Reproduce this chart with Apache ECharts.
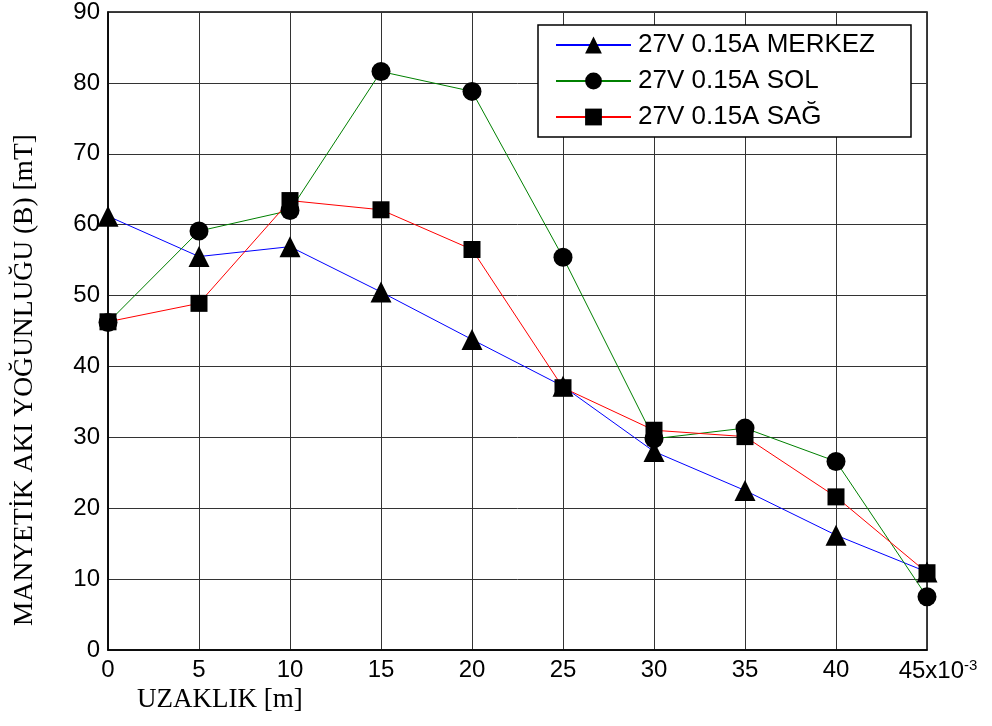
<!DOCTYPE html>
<html><head><meta charset="utf-8">
<script src="https://cdn.jsdelivr.net/npm/echarts@6/dist/echarts.min.js"></script>
<style>html,body{margin:0;padding:0;background:#fff}#c{width:992px;height:726px}</style>
</head><body><div id="c"></div>
<script>
const xValues = [0, 5, 10, 15, 20, 25, 30, 35, 40, 45];
const merkez = [61.2, 55.5, 56.9, 50.5, 43.8, 37.2, 28.0, 22.5, 16.2, 11.0];
const sol = [46.2, 59.1, 62.0, 81.6, 78.8, 55.4, 29.8, 31.3, 26.6, 7.5];
const sag = [46.3, 48.9, 63.4, 62.1, 56.5, 37.0, 31.0, 30.1, 21.6, 10.9];
const seriesNames = ['27V 0.15A MERKEZ', '27V 0.15A SOL', '27V 0.15A SAĞ'];
const xTitle = 'UZAKLIK [m]';
const yTitle = 'MANYETİK AKI YOĞUNLUĞU (B) [mT]';

const pair = arr => xValues.map((x, i) => [x, arr[i]]);
const chart = echarts.init(document.getElementById('c'));
const sans = 'Liberation Sans, Arial, Helvetica, sans-serif';
const serif = 'Liberation Serif, Times New Roman, serif';
chart.setOption({
  animation: false,
  backgroundColor: '#fff',
  grid: { left: 108, top: 12, width: 819, height: 638, show: true, borderColor: '#000', borderWidth: 1.5, containLabel: false, outerBoundsMode: 'none' },
  legend: {
    left: 538, top: 25, orient: 'vertical',
    backgroundColor: '#fff', borderColor: '#000', borderWidth: 1.5, borderRadius: 0,
    padding: [7, 36, 7, 17], itemGap: 10, itemWidth: 75, itemHeight: 21,
    textStyle: { fontFamily: sans, fontSize: 26, lineHeight: 26, color: '#000', padding: [0, 0, 0, 2] },
    data: seriesNames
  },
  xAxis: {
    type: 'value', min: 0, max: 45, interval: 5,
    axisLine: { show: true, lineStyle: { color: '#000', width: 1.5 } },
    axisTick: { show: false },
    splitLine: { show: true, lineStyle: { color: '#333', width: 1 } },
    axisLabel: {
      color: '#000', fontFamily: sans, fontSize: 24, margin: 8,
      formatter: v => v === 45 ? '{a|45x10}{s|-3}' : String(v),
      rich: { a: { fontFamily: sans, fontSize: 24, color: '#000', padding: [0, 0, 0, 22] }, s: { fontFamily: sans, fontSize: 15, color: '#000', verticalAlign: 'top', padding: [0, 0, 12, 0] } }
    }
  },
  yAxis: {
    type: 'value', min: 0, max: 90, interval: 10,
    axisLine: { show: true, lineStyle: { color: '#000', width: 1.5 } },
    axisTick: { show: false },
    splitLine: { show: true, lineStyle: { color: '#333', width: 1 } },
    axisLabel: { color: '#000', fontFamily: sans, fontSize: 24, margin: 8 }
  },
  graphic: [{
    type: 'text', left: 137, top: 686,
    style: { text: xTitle, font: '27px ' + serif, fill: '#000' }
  }, {
    type: 'text', x: 25, y: 380, rotation: Math.PI / 2,
    style: { text: yTitle, font: '27.5px ' + serif, fill: '#000', align: 'center', verticalAlign: 'middle' }
  }],
  series: [
    { name: seriesNames[0], type: 'line', data: pair(merkez), symbol: 'triangle', symbolSize: 21,
      itemStyle: { color: '#000' }, lineStyle: { color: '#0000ff', width: 1 } },
    { name: seriesNames[1], type: 'line', data: pair(sol), symbol: 'circle', symbolSize: 19,
      itemStyle: { color: '#000' }, lineStyle: { color: '#008000', width: 1 } },
    { name: seriesNames[2], type: 'line', data: pair(sag), symbol: 'rect', symbolSize: 17,
      itemStyle: { color: '#000' }, lineStyle: { color: '#ff0000', width: 1 } }
  ]
});
</script></body></html>
